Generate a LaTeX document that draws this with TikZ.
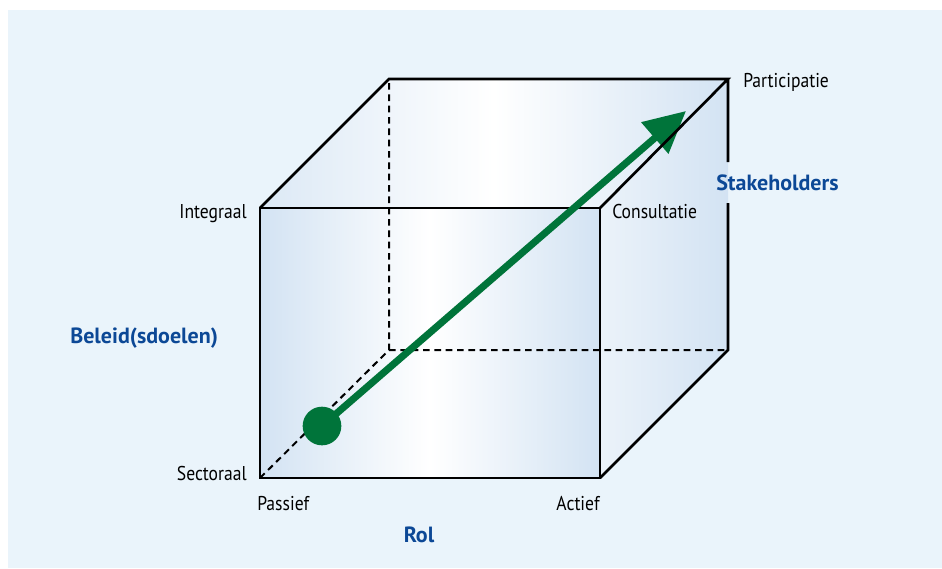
\documentclass[tikz,border=0pt]{standalone}
\usepackage{fontspec}
\setmainfont{PT Sans}[FakeStretch=0.88]
\newfontfamily\axisfont{PT Sans}
\usetikzlibrary{arrows.meta}

\definecolor{panelblue}{RGB}{234,244,251}
\definecolor{faceblue}{RGB}{211,227,243}
\definecolor{arrowgreen}{RGB}{0,116,58}
\definecolor{axisblue}{RGB}{12,72,150}

\tikzset{
  cornerlabel/.style={font=\fontsize{15}{17}\selectfont},
  axislabel/.style={font=\axisfont\bfseries\fontsize{16.5}{19}\selectfont, text=axisblue},
}

\begin{document}
\begin{tikzpicture}[x=0.75pt, y=-0.75pt, inner sep=0pt]

  \useasboundingbox (0,0) rectangle (942,568);

  % Light blue panel behind the cube
  \fill[panelblue] (8,10) rectangle (942,568);

  % Corners of the cube (front face, then back face)
  \coordinate (fbl) at (260,478);
  \coordinate (fbr) at (600,478);
  \coordinate (ftr) at (600,208);
  \coordinate (ftl) at (260,208);
  \coordinate (bbl) at (389,350);
  \coordinate (bbr) at (728,350);
  \coordinate (btr) at (728,79);
  \coordinate (btl) at (389,79);
  \coordinate (gaptop) at (728,162);
  \coordinate (gapbot) at (728,203);

  % Shaded faces
  \shade[left color=faceblue, right color=faceblue, middle color=white]
    (fbl) rectangle (ftr);
  \shade[left color=faceblue!80!white, right color=faceblue, middle color=white]
    (ftl) -- (btl) -- (btr) -- (ftr) -- cycle;
  \shade[left color=faceblue!45!white, right color=faceblue]
    (ftr) -- (btr) -- (bbr) -- (fbr) -- cycle;

  % Hidden edges
  \draw[line width=1.5pt, dash pattern=on 5pt off 3.5pt]
    (fbl) -- (bbl) -- (btl) (bbl) -- (bbr);

  % Front face
  \draw[line width=2pt] (fbl) rectangle (ftr);

  % Green arrow from the starting point
  \node[circle, fill=arrowgreen, minimum size=29pt] (start) at (322,426) {};
  \coordinate (tip) at (686,111);
  \draw[arrowgreen, line width=5.3pt, -{Triangle[length=31pt, width=30pt]}]
    (start.center) -- (tip);

  % Top and right faces
  \draw[line width=2pt, line join=miter]
    (ftl) -- (btl) -- (btr) -- (ftr)
    (btr) -- (gaptop) (gapbot) -- (bbr) -- (fbr);

  % Corner labels
  \node[cornerlabel, anchor=base east] (integraal) at (247,218) {Integraal};
  \node[cornerlabel, anchor=base east] (sectoraal) at (247,480) {Sectoraal};
  \node[cornerlabel, anchor=base west] (passief) at (257,510) {Passief};
  \node[cornerlabel, anchor=base east] (actief) at (600,510) {Actief};
  \node[cornerlabel, anchor=base west] (consultatie) at (612,218) {Consultatie};
  \node[cornerlabel, anchor=base west] (participatie) at (743,87) {Participatie};

  % Axis labels
  \node[axislabel, anchor=base west] (beleid) at (70,343) {Beleid(sdoelen)};
  \node[axislabel, anchor=base west] (stakeholders) at (716,190) {Stakeholders};
  \node[axislabel, anchor=base] (rol) at (419,542) {Rol};

\end{tikzpicture}
\end{document}
